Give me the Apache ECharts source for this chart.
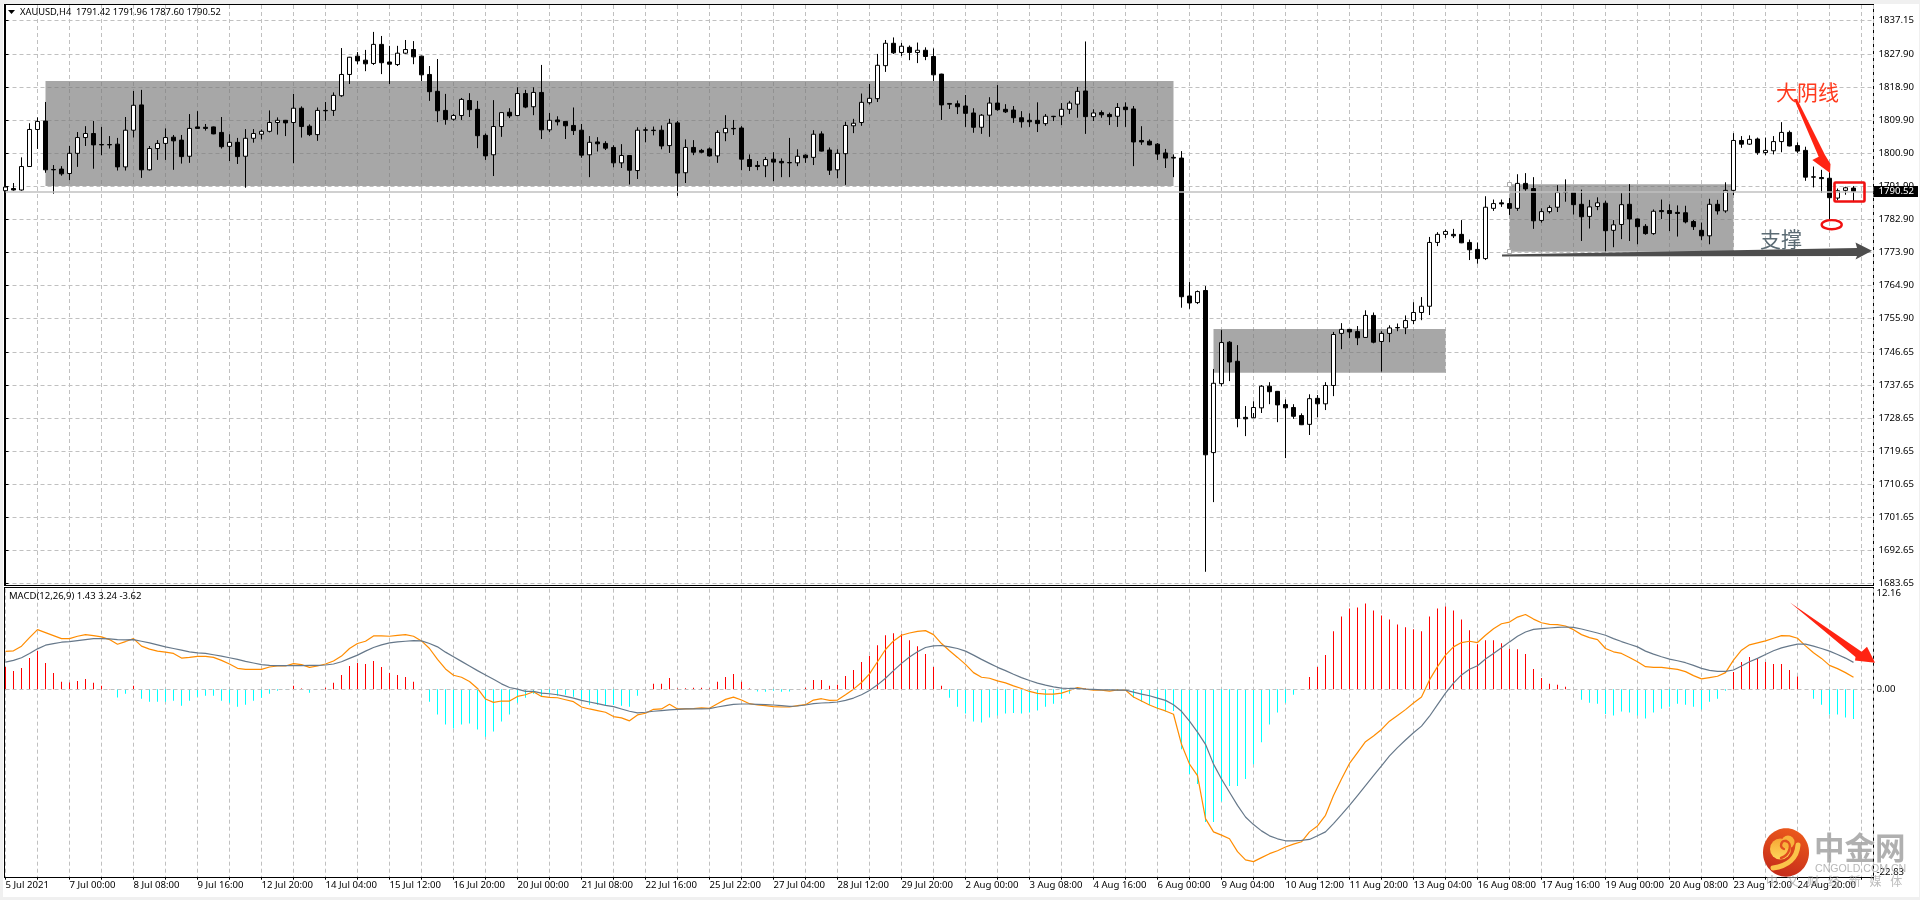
<!DOCTYPE html>
<html>
<head>
<meta charset="utf-8">
<title>XAUUSD H4</title>
<style>
  html, body { margin: 0; padding: 0; background: #f0f0f0; }
  #sheet { position: absolute; left: 3px; top: 4px; width: 1916px; height: 893px; background: #fff; }
  .pane { position: absolute; box-sizing: border-box; left: 4px; width: 1870px; border: 1px solid #000; }
  #pricePane { top: 4px; height: 582px; }
  #macdPane { top: 587px; height: 291px; }
  #chart { position: absolute; left: 0; top: 0; width: 1920px; height: 900px; }
</style>
<script src="https://cdn.jsdelivr.net/npm/echarts@6/dist/echarts.min.js"></script>
</head>
<body>
<div id="sheet"></div>
<div class="pane" id="pricePane"></div>
<div class="pane" id="macdPane"></div>
<div id="chart"></div>
<script>
// XAUUSD H4 bars, one entry per bar
const opens = [
1790.7,1791.3,1790.9,1797.3,1807.4,1809.7,1796.5,1796.6,1795.4,1800.9,
1805.2,1806.3,1803.3,1803.3,1803.4,1797.2,1807.2,1814.1,1796.4,1802.2,
1803.6,1805.3,1804.5,1800.1,1808.1,1808.0,1808.1,1806.6,1802.8,1803.9,
1800.1,1805.0,1806.1,1806.9,1809.3,1809.9,1809.3,1813.2,1808.3,1806.0,
1812.6,1812.6,1816.6,1822.4,1827.4,1826.3,1825.4,1830.6,1825.8,1825.1,
1828.2,1829.2,1827.4,1822.4,1817.8,1812.6,1810.2,1811.2,1815.3,1812.9,
1805.8,1800.5,1808.2,1812.1,1811.2,1817.2,1813.6,1817.5,1807.3,1810.0,
1809.6,1808.5,1807.2,1800.5,1804.0,1803.6,1802.5,1798.3,1800.3,1796.2,
1807.3,1807.2,1807.2,1803.0,1809.2,1795.6,1802.5,1801.7,1802.1,1800.2,
1806.5,1807.7,1807.8,1799.2,1797.6,1797.5,1799.3,1798.7,1798.4,1798.3,
1800.4,1799.8,1806.2,1801.8,1796.4,1800.8,1808.4,1809.3,1814.7,1815.8,
1824.8,1830.9,1828.4,1829.8,1828.4,1829.0,1827.3,1822.5,1814.5,1814.4,
1813.8,1811.9,1808.0,1811.3,1814.6,1812.9,1812.7,1810.6,1809.9,1809.9,
1809.0,1811.0,1811.0,1812.9,1814.3,1817.9,1810.9,1812.0,1811.5,1811.0,
1813.5,1813.0,1804.4,1804.2,1803.4,1801.0,1799.8,1799.6,1762.0,1760.2,
1763.5,1719.3,1738.1,1749.4,1744.2,1728.9,1728.8,1731.5,1737.4,1736.0,
1732.4,1731.6,1729.4,1727.0,1734.1,1732.6,1737.6,1751.8,1752.9,1752.3,
1750.7,1756.7,1749.6,1751.8,1753.4,1753.3,1755.3,1757.5,1759.2,1776.6,
1778.8,1778.8,1778.8,1776.6,1774.7,1772.2,1785.9,1787.4,1787.2,1785.9,
1792.7,1791.3,1782.6,1785.0,1786.2,1790.3,1790.2,1787.0,1783.7,1786.4,
1787.3,1779.9,1781.5,1787.0,1783.0,1781.0,1779.0,1785.3,1785.3,1784.8,
1784.7,1782.3,1779.9,1778.4,1787.0,1785.2,1790.8,1804.4,1803.4,1804.8,
1801.1,1801.6,1804.1,1806.6,1803.0,1801.7,1794.5,1794.3,1794.1,1788.7,
1790.8,1791.42];
const closes = [
1791.7,1790.9,1797.3,1807.4,1809.6,1796.4,1796.4,1795.3,1800.9,1805.2,
1806.3,1803.2,1803.2,1803.2,1797.2,1807.2,1814.0,1796.4,1802.2,1803.6,
1805.2,1804.3,1800.0,1807.7,1807.7,1807.7,1806.2,1802.7,1803.9,1800.0,
1805.0,1806.3,1806.9,1809.3,1809.9,1809.2,1813.2,1808.2,1806.0,1812.6,
1812.5,1816.7,1822.4,1827.1,1826.1,1825.3,1830.6,1825.6,1825.2,1828.2,
1829.2,1827.2,1822.3,1817.7,1812.5,1810.1,1811.2,1815.6,1812.8,1805.7,
1800.2,1808.2,1812.0,1811.1,1817.2,1813.5,1817.5,1807.3,1809.9,1809.5,
1808.4,1807.1,1800.4,1803.9,1803.5,1802.3,1798.3,1800.3,1796.3,1807.2,
1807.2,1807.1,1802.9,1809.1,1795.5,1802.5,1801.2,1801.2,1800.2,1806.6,
1807.7,1807.6,1799.3,1797.3,1797.3,1799.2,1798.5,1798.3,1798.3,1800.1,
1799.7,1806.1,1801.5,1796.3,1800.9,1808.5,1809.1,1814.8,1815.9,1824.9,
1830.9,1828.3,1830.1,1828.4,1829.0,1827.3,1822.3,1814.1,1814.3,1813.6,
1811.8,1808.0,1811.3,1814.6,1812.8,1812.2,1810.6,1809.5,1809.5,1809.0,
1811.0,1810.9,1812.9,1814.6,1817.8,1810.9,1811.9,1811.4,1810.9,1813.4,
1812.8,1804.0,1804.0,1803.2,1800.7,1799.6,1799.6,1761.8,1760.1,1763.2,
1718.7,1738.2,1749.3,1744.0,1728.6,1728.5,1731.6,1737.4,1735.9,1732.3,
1731.5,1729.2,1726.9,1734.0,1732.6,1737.6,1751.5,1752.9,1752.2,1750.6,
1756.7,1749.4,1751.8,1753.3,1753.3,1755.3,1757.5,1759.2,1776.6,1778.8,
1779.6,1778.4,1776.5,1774.6,1772.2,1786.2,1787.2,1787.1,1785.9,1792.7,
1791.2,1782.5,1785.0,1786.1,1790.2,1790.2,1786.9,1783.6,1786.3,1787.4,
1779.8,1781.4,1786.9,1783.0,1780.9,1779.0,1785.1,1785.0,1784.5,1784.5,
1782.2,1780.9,1778.4,1787.0,1785.2,1790.8,1804.4,1803.4,1804.7,1801.1,
1801.7,1804.1,1806.6,1802.9,1801.5,1794.4,1794.4,1794.0,1788.8,1790.7,
1791.5,1790.52];
const highs = [
1791.8,1792.8,1799.8,1809.1,1810.7,1814.9,1797.7,1797.4,1802.9,1806.7,
1808.3,1809.7,1808.1,1805.6,1805.1,1810.8,1817.9,1818.2,1802.9,1804.5,
1807.7,1805.9,1805.9,1811.6,1812.4,1808.9,1808.2,1810.8,1806.1,1805.1,
1807.5,1807.5,1807.4,1812.6,1810.7,1810.0,1817.1,1813.7,1808.8,1813.4,
1814.9,1817.5,1829.6,1827.2,1828.5,1829.1,1834.0,1832.9,1830.2,1830.2,
1831.8,1831.5,1827.5,1824.7,1826.6,1817.1,1811.6,1816.0,1817.3,1815.2,
1806.3,1815.4,1812.1,1813.2,1818.9,1818.2,1818.9,1825.0,1811.9,1811.0,
1809.7,1813.4,1808.9,1805.6,1805.3,1804.2,1803.1,1803.4,1800.4,1808.0,
1808.0,1808.2,1808.5,1810.3,1809.7,1804.7,1804.5,1802.1,1802.5,1807.2,
1811.3,1810.0,1808.3,1800.6,1798.8,1799.9,1801.2,1799.5,1805.1,1802.0,
1800.6,1807.2,1806.9,1802.5,1802.0,1809.5,1810.3,1817.2,1819.8,1828.0,
1831.8,1832.5,1831.0,1830.3,1831.1,1829.8,1829.5,1822.6,1814.6,1815.3,
1816.8,1813.2,1811.6,1816.2,1819.5,1814.3,1813.8,1812.4,1811.8,1814.8,
1811.6,1811.1,1814.6,1815.2,1819.0,1831.4,1812.9,1812.6,1812.0,1814.6,
1814.8,1813.8,1808.3,1804.7,1803.7,1802.1,1800.6,1801.5,1765.8,1763.5,
1764.7,1742.1,1752.7,1749.7,1748.6,1732.0,1733.3,1737.7,1738.5,1736.1,
1733.8,1732.5,1730.0,1735.2,1735.0,1738.5,1752.2,1754.6,1753.0,1753.8,
1758.1,1757.5,1752.4,1754.0,1754.5,1756.7,1760.3,1761.7,1778.1,1779.4,
1780.1,1780.3,1782.7,1777.4,1776.6,1789.2,1788.3,1788.3,1788.7,1795.2,
1795.5,1794.4,1785.9,1786.7,1792.2,1793.8,1790.3,1791.0,1788.2,1788.9,
1788.0,1782.7,1790.0,1792.5,1783.1,1781.6,1785.6,1788.3,1787.0,1786.7,
1786.6,1782.7,1782.0,1788.5,1788.2,1793.0,1806.4,1805.6,1805.8,1805.2,
1805.2,1805.6,1809.4,1807.1,1803.9,1802.7,1797.3,1796.4,1797.7,1791.3,
1791.8,1791.96];
const lows = [
1789.8,1790.7,1790.7,1797.2,1802.1,1795.6,1789.9,1794.8,1793.6,1797.2,
1802.9,1796.7,1800.4,1802.2,1796.2,1796.2,1805.2,1794.2,1796.2,1799.1,
1799.1,1796.4,1798.1,1798.3,1807.6,1807.1,1806.1,1802.2,1798.8,1798.0,
1791.5,1803.8,1804.7,1806.6,1806.0,1805.6,1798.2,1805.2,1805.6,1804.3,
1809.8,1811.1,1816.3,1819.8,1825.2,1823.3,1825.0,1822.5,1819.8,1824.7,
1828.0,1825.2,1820.6,1815.2,1809.4,1808.7,1809.8,1810.0,1810.8,1802.3,
1799.1,1794.7,1805.4,1810.5,1811.0,1813.2,1811.3,1804.8,1806.7,1808.5,
1804.8,1805.9,1799.7,1794.4,1801.4,1801.8,1797.1,1796.9,1792.4,1793.9,
1803.9,1805.8,1802.0,1801.0,1789.3,1792.8,1800.4,1800.9,1800.0,1798.3,
1804.2,1805.9,1796.3,1796.1,1796.3,1794.4,1793.3,1794.4,1794.4,1797.4,
1798.3,1797.7,1801.4,1795.0,1794.1,1792.3,1806.4,1808.4,1814.2,1814.9,
1823.1,1828.0,1827.4,1826.3,1825.5,1826.3,1820.6,1810.0,1813.0,1811.6,
1808.1,1806.5,1806.2,1805.4,1812.5,1811.9,1809.2,1807.9,1808.1,1806.7,
1808.4,1809.7,1808.6,1811.6,1810.6,1806.2,1809.7,1810.6,1808.6,1808.1,
1808.1,1797.4,1803.2,1803.1,1799.1,1796.9,1794.4,1758.8,1758.5,1759.8,
1686.8,1705.8,1737.4,1738.8,1726.2,1723.8,1730.1,1730.1,1732.5,1727.6,
1717.8,1728.5,1726.8,1724.1,1728.9,1730.9,1734.7,1747.5,1750.5,1748.6,
1750.6,1749.1,1741.4,1749.4,1752.4,1751.6,1754.3,1755.4,1756.8,1775.6,
1777.8,1777.8,1776.4,1771.8,1770.8,1771.8,1785.2,1786.3,1784.1,1785.2,
1790.7,1780.3,1782.0,1784.5,1784.9,1787.7,1784.2,1777.0,1780.4,1785.4,
1774.2,1775.3,1777.5,1777.0,1776.1,1778.7,1778.7,1783.0,1779.7,1778.2,
1781.8,1780.0,1777.2,1776.1,1784.2,1784.7,1789.5,1802.4,1803.2,1800.5,
1800.4,1800.6,1801.2,1802.8,1801.0,1793.4,1791.6,1790.1,1782.8,1788.1,
1789.6,1787.60];

// MACD(12,26,9) histogram, main line and signal line, one entry per bar
const macdHist = [
2.68,2.2,2.56,3.76,4.64,3.16,1.96,.88,.8,1,
1.24,.76,.4,.02,-1,-.56,.4,-1.16,-1.52,-1.52,
-1.52,-1.4,-2,-1.4,-.92,-.8,-.8,-1.4,-1.64,-2.12,
-1.88,-1.4,-1.04,-.56,-.2,-.04,.4,.08,-.44,-.02,
.16,.76,1.72,2.8,3.16,3.04,3.4,2.68,1.96,1.72,
1.48,.88,-.02,-1.52,-3.08,-4.28,-4.76,-4.28,-4.16,-4.88,
-5.76,-5.12,-3.92,-3.08,-1.64,-1.04,-.56,-.92,-.44,-.8,
-.68,-.92,-1.28,-1.88,-1.88,-2,-1.88,-2,-2.12,-.8,
-.02,.64,.64,1.36,.08,.12,.16,.16,.08,.88,
1.48,1.84,.88,.08,-.28,-.32,-.2,-.32,-.28,-.02,
.16,1.12,1.12,.4,.52,1.6,2.32,3.28,4,5.32,
6.52,6.76,6.64,5.92,5.2,4.24,2.68,.4,-1.04,-2.12,
-2.96,-3.92,-4.04,-3.44,-3.2,-2.96,-2.88,-2.96,-2.84,-2.6,
-2.12,-1.76,-1.16,-.56,.24,.08,-.02,-.02,-.08,-.16,
-.24,-1.04,-1.52,-1.92,-2.4,-2.72,-2.64,-7.28,-10.28,-11.48,
-16.08,-16.08,-13.6,-11.72,-11.72,-10.88,-9.08,-6.44,-4.28,-2.84,
-1.64,-.68,0,1.48,2.68,4.12,7,8.8,9.76,9.88,
10.36,9.52,8.92,8.44,7.84,7.48,7.24,7,8.8,9.76,
10,9.52,8.44,7.12,5.44,5.92,5.92,5.56,4.88,4.84,
4.24,2.44,1.36,.64,.52,.28,0,-1.28,-1.64,-1.76,
-3,-3.2,-2.72,-2.84,-3.2,-3.56,-2.84,-2.36,-2.12,-1.76,
-1.88,-2.12,-2.48,-1.52,-1.16,-.2,2.08,3.28,3.88,3.72,
3.28,3.04,3.04,2.32,1.52,0,-1.16,-1.88,-3.08,-3.08,
-3.44,-3.62];
const macdMain = [
4.56,4.64,5.2,6.24,7.2,6.84,6.48,6.12,6.12,6.4,
6.6,6.48,6.32,6,5.44,5.76,6.12,5.2,4.84,4.6,
4.48,4.32,3.76,3.84,3.96,3.96,3.84,3.48,3.04,2.52,
2.4,2.4,2.4,2.68,2.8,2.8,3.08,2.96,2.64,2.8,
3.04,3.4,4,4.92,5.52,5.8,6.44,6.44,6.4,6.52,
6.6,6.4,5.84,4.92,3.6,2.44,1.68,1.44,.92,.08,
-1.2,-1.6,-1.44,-1.44,-.88,-.68,-.32,-.88,-1,-1.04,
-1.28,-1.52,-2.16,-2.4,-2.6,-2.8,-3.32,-3.48,-3.84,-3.12,
-2.92,-2.44,-2.4,-1.84,-2.4,-2.4,-2.36,-2.28,-2.32,-1.76,
-1.24,-.96,-1.32,-1.76,-1.92,-2,-2.12,-2.16,-2.16,-2,
-1.88,-1.32,-1.16,-1.36,-1.32,-.68,0,.8,1.84,3.32,
4.8,5.84,6.52,6.8,7,7.08,6.6,5.52,4.64,3.84,
3,2,1.44,1.32,1,.76,.4,.08,-.28,-.52,
-.6,-.6,-.48,-.16,.2,0,-.12,-.12,-.24,-.08,
-.12,-.96,-1.44,-1.92,-2.32,-2.64,-3.04,-6.68,-9.08,-10.48,
-15.68,-17.28,-17.68,-18.12,-19.68,-20.68,-20.88,-20.4,-19.92,-19.56,
-19.12,-18.76,-18.48,-17.28,-16.56,-15.28,-12.88,-10.88,-9,-7.68,
-6.36,-5.68,-4.88,-3.88,-3.2,-2.48,-1.68,-.96,1.12,2.72,
4.12,5.12,5.64,5.8,5.64,6.52,7.32,7.92,8.12,8.72,
9.04,8.48,8.04,7.84,7.8,7.64,7.2,6.6,6.24,6,
4.92,4.52,4.32,3.84,3.32,2.72,2.64,2.64,2.52,2.4,
2.12,1.64,1.24,1.4,1.56,2,3.52,4.72,5.36,5.6,
5.84,6.16,6.48,6.44,6.16,5.24,4.4,3.72,2.88,2.48,
2,1.43];
const macdSignal = [
3.28,3.48,3.8,4.32,4.88,5.32,5.52,5.68,5.76,5.88,
6,6.12,6.12,6.08,6,5.96,6,5.8,5.6,5.36,
5.12,4.92,4.72,4.52,4.4,4.32,4.16,4,3.8,3.6,
3.36,3.16,2.96,2.88,2.84,2.84,2.84,2.84,2.88,2.88,
2.92,3.04,3.32,3.72,4.12,4.6,5.04,5.36,5.6,5.72,
5.8,5.88,5.84,5.52,5.12,4.48,3.92,3.36,2.8,2.24,
1.72,1.2,.64,.2,0,-.28,-.28,-.48,-.56,-.68,
-.88,-1.08,-1.36,-1.56,-1.76,-1.96,-2.12,-2.4,-2.68,-2.88,
-2.8,-2.68,-2.6,-2.52,-2.44,-2.4,-2.4,-2.4,-2.36,-2.16,
-2,-1.84,-1.8,-1.8,-1.84,-1.88,-1.92,-2,-2.08,-2.04,
-1.92,-1.76,-1.68,-1.64,-1.56,-1.36,-1.08,-.68,-.16,.52,
1.32,2.24,3.12,3.88,4.52,5.04,5.24,5.28,5.12,4.92,
4.6,4.12,3.6,3.12,2.64,2.24,1.8,1.4,1.04,.72,
.48,.28,.12,.08,.08,0,-.04,-.08,-.08,-.12,
-.12,-.36,-.6,-.8,-1.08,-1.36,-1.88,-2.68,-3.88,-5.2,
-6.68,-9.08,-10.88,-12.48,-14.08,-15.48,-16.4,-17.16,-17.76,-18.12,
-18.36,-18.36,-18.32,-18.2,-17.76,-17.28,-16.28,-15.2,-14.08,-12.88,
-11.68,-10.48,-9.28,-8.08,-7.08,-6.16,-5.28,-4.48,-3.28,-1.88,
-.48,.72,1.72,2.4,2.84,3.64,4.32,5,5.72,6.4,
6.92,7.24,7.32,7.4,7.48,7.52,7.48,7.28,7.04,6.8,
6.52,6.12,5.76,5.44,5.12,4.6,4.24,3.92,3.64,3.44,
3.2,2.88,2.52,2.28,2.16,2.16,2.32,2.8,3.32,3.72,
4.2,4.64,5,5.24,5.44,5.44,5.2,4.92,4.6,4.2,
3.76,3.24];

// Axis labels
const timeLabels = ['5 Jul 2021','7 Jul 00:00','8 Jul 08:00','9 Jul 16:00','12 Jul 20:00','14 Jul 04:00','15 Jul 12:00','16 Jul 20:00','20 Jul 00:00','21 Jul 08:00','22 Jul 16:00','25 Jul 22:00','27 Jul 04:00','28 Jul 12:00','29 Jul 20:00','2 Aug 00:00','3 Aug 08:00','4 Aug 16:00','6 Aug 00:00','9 Aug 04:00','10 Aug 12:00','11 Aug 20:00','13 Aug 04:00','16 Aug 08:00','17 Aug 16:00','19 Aug 00:00','20 Aug 08:00','23 Aug 12:00','24 Aug 20:00'];
const priceTicks = [1683.65,1692.65,1701.65,1710.65,1719.65,1728.65,1737.65,1746.65,1755.90,1764.90,1773.90,1782.90,1791.90,1800.90,1809.90,1818.90,1827.90,1837.15];
const macdTicks = [-22.83,0,12.16];

// Shaded consolidation zones: first bar, last bar, upper price, lower price
const zones = [[5,146,1820.6,1792.0],[151,180,1753.0,1741.1],[188,216,1792.45,1774.05]];
const lastClose = 1790.52;

const FONT = '"Noto Sans", Tahoma, sans-serif';
const CJK = '"Noto Sans CJK SC", sans-serif';
const GRID = { color: '#c0c0c0', type: [4, 3], width: 1 };
const RED = '#ff2412';

const candleData = opens.map((o, i) => [i, o, closes[i], lows[i], highs[i]]);
const labelBars = timeLabels.map((_, k) => k * 8);

function polygon(points, fill) {
  return { type: 'polygon', silent: true, z: 20, shape: { points }, style: { fill } };
}
function curve(x1, y1, cpx1, cpy1, cpx2, cpy2, x2, y2, stroke, lineWidth, z) {
  return { type: 'bezierCurve', silent: true, z, shape: { x1, y1, cpx1, cpy1, cpx2, cpy2, x2, y2 },
    style: { fill: 'none', stroke, lineWidth, lineCap: 'round' } };
}
function note(text, x, y, font, fill, extra) {
  return Object.assign({ type: 'text', silent: true, z: 21, x, y,
    style: { text, font, fill, textVerticalAlign: 'middle' } }, extra || {});
}

const annotations = [
  // window menu marker
  polygon([[8, 10], [15, 10], [11.5, 14]], '#000'),
  // long bearish bar callout
  note('大阴线', 1776, 92, '400 21px ' + CJK, '#ff3a1e'),
  polygon([[1794, 99], [1797, 99], [1825, 155], [1830.5, 164], [1830, 173], [1812.3, 160], [1818.7, 156.7]], RED),
  { type: 'ellipse', silent: true, z: 20, shape: { cx: 1831.7, cy: 224.7, rx: 10, ry: 4.6 },
    style: { fill: 'none', stroke: '#f01010', lineWidth: 2.4 } },
  { type: 'rect', silent: true, z: 20, shape: { x: 1834.5, y: 182.5, width: 30, height: 19, r: 1 },
    style: { fill: 'none', stroke: '#f01010', lineWidth: 2.6 } },
  // support line
  note('支撑', 1760, 239, '400 21px ' + CJK, '#5b6b74'),
  polygon([[1502, 254.6], [1857, 248], [1855.5, 242.5], [1872, 250.7], [1855.5, 259.5], [1857, 256], [1502, 256.4]], '#4d4d4d'),
  // zone handles
  { type: 'rect', silent: true, z: 20, shape: { x: 1507.5, y: 182.5, width: 4, height: 4 }, style: { fill: '#fff', stroke: '#aaa', lineWidth: 1 } },
  { type: 'rect', silent: true, z: 20, shape: { x: 1507.5, y: 249.5, width: 4, height: 4 }, style: { fill: '#fff', stroke: '#aaa', lineWidth: 1 } },
  // MACD direction arrow
  polygon([[1790, 602.5], [1861.6, 651.7], [1867, 646.7], [1875, 662.7], [1855, 660.5], [1855.5, 657]], RED),
  // cngold.com.cn mark
  { type: 'ellipse', silent: true, z: 22, shape: { cx: 1786, cy: 852.5, rx: 23, ry: 24.2 },
    style: { fill: new echarts.graphic.LinearGradient(0.7, 0, 0.3, 1, [
      { offset: 0, color: '#ec5a1c' }, { offset: 1, color: '#c42a1a' }]) } },
  { type: 'circle', silent: true, z: 23, shape: { cx: 1780.5, cy: 849, r: 10.5 },
    style: { fill: new echarts.graphic.LinearGradient(0, 0, 0, 1, [
      { offset: 0, color: '#f6a836' }, { offset: 1, color: '#ffd65a' }]) } },
  { type: 'circle', silent: true, z: 23, shape: { cx: 1788, cy: 842, r: 6.5 }, style: { fill: '#f8b23c' } },
  curve(1773, 868, 1788, 866, 1797, 858, 1798, 845, '#fbc34a', 5, 23),
  curve(1781, 858, 1790, 855, 1793, 843, 1786, 841, '#e2501f', 2.4, 24),
  curve(1786, 841, 1781, 840, 1779, 847, 1784, 849, '#e2501f', 2.4, 24),
  note('中金网', 1814, 847, '700 30.5px ' + CJK, 'rgba(165,165,165,0.88)', { z: 22 }),
  note('CNGOLD.COM.CN', 1815, 869, '400 10.6px "Liberation Sans", sans-serif', 'rgba(170,170,170,0.85)', { z: 22 })
].concat(Array.from('中文财经新媒体').map((c, k) =>
  note(c, 1766 + k * 20.7, 881, '400 12px ' + CJK, 'rgba(165,165,165,0.75)', { z: 22 })));

const chart = echarts.init(document.getElementById('chart'), null, { renderer: 'canvas' });
chart.setOption({
  animation: false,
  backgroundColor: 'transparent',
  textStyle: { fontFamily: FONT },
  title: [
    { text: 'XAUUSD,H4  1791.42 1791.96 1787.60 1790.52', left: 20, top: 6, padding: 0,
      textStyle: { fontFamily: FONT, fontSize: 9.3, fontWeight: 'normal', color: '#000', lineHeight: 13 } },
    { text: 'MACD(12,26,9) 1.43 3.24 -3.62', left: 9, top: 590, padding: 0,
      textStyle: { fontFamily: FONT, fontSize: 9.5, fontWeight: 'normal', color: '#000', lineHeight: 13 } }
  ],
  grid: [
    { left: 5.5, right: 46.5, top: 5, height: 580 },
    { left: 5.5, right: 46.5, top: 588.7, height: 289 }
  ],
  xAxis: [
    { type: 'value', gridIndex: 0, min: 0, max: 233.5, interval: 4,
      axisLine: { show: false }, axisTick: { show: false }, axisLabel: { show: false },
      splitLine: { show: true, lineStyle: GRID } },
    { type: 'value', gridIndex: 1, min: 0, max: 233.5, interval: 4,
      axisLine: { show: true, onZero: false, lineStyle: { color: '#000' } },
      axisTick: { show: true, length: 2, lineStyle: { color: '#000' } },
      axisLabel: { show: true, customValues: labelBars, align: 'left', margin: 3,
        color: '#000', fontFamily: FONT, fontSize: 9.6,
        formatter: v => timeLabels[v / 8] },
      splitLine: { show: true, lineStyle: GRID } }
  ],
  yAxis: [
    { type: 'value', gridIndex: 0, position: 'right', min: 1683.2, max: 1841.34, scale: true,
      axisLine: { show: true, lineStyle: { color: '#000' } },
      axisTick: { show: true, length: 3, customValues: priceTicks, lineStyle: { color: '#000' } },
      axisLabel: { show: true, customValues: priceTicks, margin: 5, color: '#000', fontFamily: FONT, fontSize: 9.6,
        formatter: v => v.toFixed(2) },
      splitLine: { show: true, lineStyle: GRID } },
    { type: 'value', gridIndex: 1, position: 'right', min: -22.83, max: 12.16,
      axisLine: { show: false },
      axisTick: { show: false },
      axisLabel: { show: true, customValues: macdTicks, margin: 3, color: '#000', fontFamily: FONT, fontSize: 9.6,
        verticalAlignMaxLabel: 'top', verticalAlignMinLabel: 'bottom',
        formatter: v => v.toFixed(2) },
      splitLine: { show: false } }
  ],
  series: [
    {
      name: 'XAUUSD', type: 'candlestick', xAxisIndex: 0, yAxisIndex: 0, barWidth: 4,
      data: candleData,
      itemStyle: { color: '#fff', color0: '#000', borderColor: '#000', borderColor0: '#000', borderColorDoji: '#000', borderWidth: 1 },
      markArea: {
        silent: true,
        itemStyle: { color: 'rgba(120,120,120,0.65)' },
        data: zones.map(z => [{ xAxis: z[0], yAxis: z[2] }, { xAxis: z[1], yAxis: z[3] }])
      },
      markLine: {
        silent: true, symbol: 'none', animation: false,
        lineStyle: { color: '#c0c0c0', type: 'solid', width: 1.5 },
        label: { show: true, position: 'end', distance: 0, formatter: lastClose.toFixed(2),
          color: '#fff', backgroundColor: '#000', fontFamily: FONT, fontSize: 9.6,
          padding: [0, 4, 0, 5], lineHeight: 11 },
        data: [{ yAxis: lastClose }]
      }
    },
    {
      name: 'MACD histogram', type: 'bar', xAxisIndex: 1, yAxisIndex: 1, barWidth: 1,
      data: macdHist.map((v, i) => [i, v]),
      itemStyle: { color: p => (p.value[1] >= 0 ? '#ff0000' : '#00ffff') },
      markLine: {
        silent: true, symbol: 'none', animation: false, label: { show: false },
        lineStyle: { color: '#c0c0c0', type: [4, 3], width: 1 },
        data: [{ yAxis: 0 }]
      }
    },
    {
      name: 'MACD main', type: 'line', xAxisIndex: 1, yAxisIndex: 1, symbol: 'none', z: 4,
      data: macdMain.map((v, i) => [i, v]),
      lineStyle: { color: '#ff8c00', width: 1.2 }
    },
    {
      name: 'MACD signal', type: 'line', xAxisIndex: 1, yAxisIndex: 1, symbol: 'none', z: 5,
      data: macdSignal.map((v, i) => [i, v]),
      lineStyle: { color: '#66788a', width: 1.2 }
    }
  ],
  graphic: annotations
});
</script>
</body>
</html>
